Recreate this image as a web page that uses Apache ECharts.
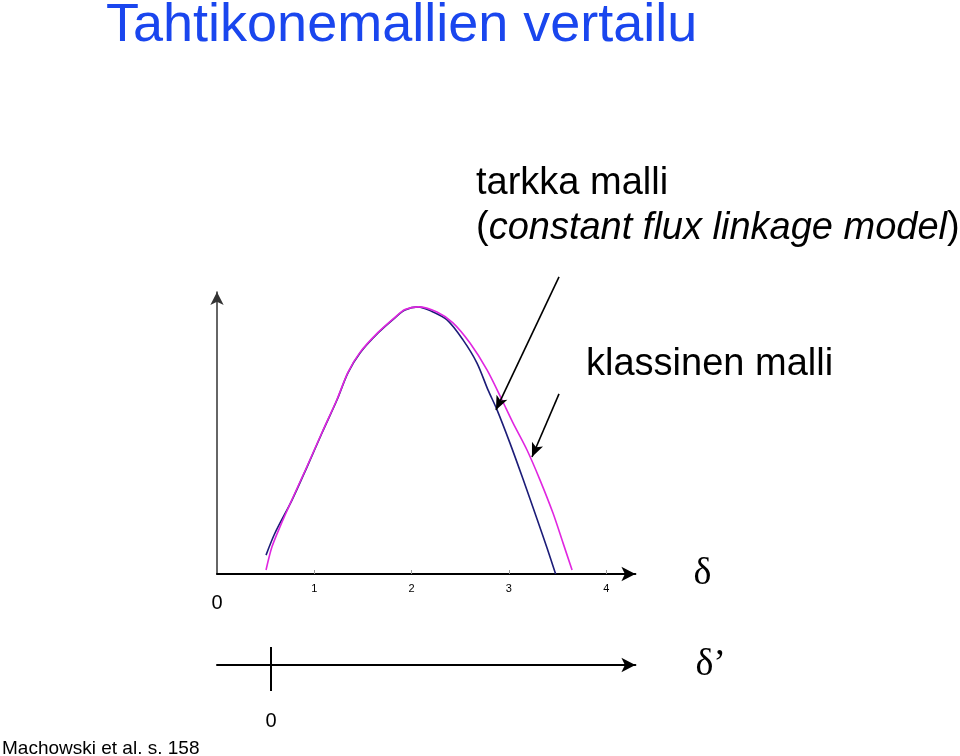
<!DOCTYPE html>
<html>
<head>
<meta charset="utf-8">
<script src="https://cdn.jsdelivr.net/npm/echarts@6/dist/echarts.min.js"></script>
<style>
  html, body { margin: 0; padding: 0; background: #ffffff; }
  #chart { width: 960px; height: 756px; }
</style>
</head>
<body>
<div id="chart"></div>
<script>
// ---- data ----
// tarkka malli (constant flux linkage model) — navy curve
const exactDelta = [0.504, 0.596, 0.771, 0.925, 1.079, 1.233, 1.346, 1.470, 1.655, 1.829, 1.932, 2.066, 2.189, 2.364, 2.528, 2.672, 2.785, 2.878, 3.011, 3.145, 3.289, 3.392, 3.480];
const exactP     = [0.071, 0.154, 0.278, 0.402, 0.530, 0.654, 0.756, 0.831, 0.906, 0.963, 0.992, 1.004, 0.990, 0.955, 0.880, 0.793, 0.692, 0.617, 0.492, 0.357, 0.207, 0.098, 0.000];
// klassinen malli — magenta curve
const classicDelta = [0.504, 0.565, 0.647, 0.771, 0.925, 1.079, 1.233, 1.346, 1.470, 1.655, 1.829, 1.932, 2.066, 2.261, 2.425, 2.600, 2.775, 2.929, 3.042, 3.186, 3.320, 3.453, 3.556, 3.649];
const classicP     = [0.015, 0.102, 0.177, 0.280, 0.404, 0.532, 0.656, 0.758, 0.833, 0.908, 0.965, 0.994, 1.004, 0.985, 0.944, 0.868, 0.767, 0.654, 0.568, 0.466, 0.353, 0.229, 0.117, 0.015];
// axis ticks
const deltaTicks = [0, 1, 2, 3, 4];
const deltaPrimeTicks = [0];
// annotation arrows (data coordinates): [start, tip]
const arrowExact   = [[3.515, 1.117], [2.867, 0.617]];
const arrowClassic = [[3.515, 0.677], [3.237, 0.440]];

const titleText = 'Tahtikonemallien vertailu';
const sourceText = 'Machowski et al. s. 158';

const pairs = (xs, ys) => xs.map((x, i) => [x, ys[i]]);

const chart = echarts.init(document.getElementById('chart'), null, { renderer: 'canvas' });
const sans = 'Liberation Sans, Arial, Helvetica, sans-serif';
const serif = 'Liberation Serif, Times New Roman, serif';

const arrowMarkLine = (arrows) => ({
  silent: true, symbol: ['none', 'arrow'], symbolSize: [9, 14],
  label: { show: false },
  lineStyle: { color: '#000', width: 1.6, type: 'solid' },
  data: arrows.map(a => [{ coord: a[0] }, { coord: a[1] }])
});

const option = {
  backgroundColor: '#ffffff',
  animation: false,
  title: {
    text: titleText,
    left: 106,
    top: -1,
    padding: 0,
    textStyle: { color: '#1a46ee', fontFamily: sans, fontSize: 54, fontWeight: 'normal' }
  },
  grid: [
    { left: 217, right: 324.6, top: 292, bottom: 182 },
    { left: 217, right: 324.6, top: 664, height: 1 },
    // overlay grid (same scale as grid 0, taller) for the annotation arrows
    { left: 217, right: 324.6, top: 254.8, bottom: 182 }
  ],
  xAxis: [
    {
      type: 'value', gridIndex: 0, min: 0, max: 4.3, interval: 1,
      name: 'δ', nameLocation: 'end', nameGap: 58,
      nameTextStyle: { fontFamily: serif, fontSize: 38, color: '#000', padding: [3, 0, 0, 0] },
      axisLine: { show: true, onZero: false, symbol: ['none', 'arrow'], symbolSize: [11, 14],
        lineStyle: { color: '#000', width: 2 } },
      axisTick: { show: true, inside: true, length: 4, customValues: [1, 2, 3, 4],
        lineStyle: { color: '#999', width: 1 } },
      axisLabel: {
        customValues: deltaTicks, margin: 9,
        formatter: v => v === 0 ? '{big|0}' : '{s|' + v + '}',
        rich: {
          s: { fontFamily: sans, fontSize: 11, color: '#000' },
          big: { fontFamily: sans, fontSize: 20, color: '#000', padding: [10, 0, 0, 0] }
        }
      },
      splitLine: { show: false }
    },
    {
      type: 'value', gridIndex: 1, position: 'bottom', min: -0.555, max: 3.745,
      name: 'δ’', nameLocation: 'end', nameGap: 60,
      nameTextStyle: { fontFamily: serif, fontSize: 38, color: '#000' },
      axisLine: { show: true, onZero: false, symbol: ['none', 'arrow'], symbolSize: [11, 14],
        lineStyle: { color: '#000', width: 2 } },
      axisTick: { show: true, length: 26, customValues: deltaPrimeTicks,
        lineStyle: { color: '#000', width: 2 } },
      axisLabel: { customValues: deltaPrimeTicks, margin: 46,
        fontFamily: sans, fontSize: 20, color: '#000' },
      splitLine: { show: false }
    },
    {
      type: 'value', gridIndex: 1, position: 'top', min: -0.555, max: 3.745,
      axisLine: { show: false },
      axisTick: { show: true, length: 18, customValues: deltaPrimeTicks,
        lineStyle: { color: '#000', width: 2 } },
      axisLabel: { show: false },
      splitLine: { show: false }
    },
    {
      type: 'value', gridIndex: 2, min: 0, max: 4.3, show: false
    }
  ],
  yAxis: [
    {
      type: 'value', gridIndex: 0, min: 0, max: 1.06,
      axisLine: { show: true, onZero: false, symbol: ['none', 'arrow'], symbolSize: [10, 13],
        lineStyle: { color: '#333', width: 1.5 } },
      axisTick: { show: false }, axisLabel: { show: false }, splitLine: { show: false }
    },
    { type: 'value', gridIndex: 1, min: 0, max: 1, show: false },
    { type: 'value', gridIndex: 2, min: 0, max: 1.2, show: false }
  ],
  series: [
    {
      name: 'tarkka malli', type: 'line', xAxisIndex: 0, yAxisIndex: 0,
      data: pairs(exactDelta, exactP), smooth: 0.3,
      showSymbol: false, clip: false,
      lineStyle: { color: '#1c1c78', width: 1.6 }
    },
    {
      name: 'klassinen malli', type: 'line', xAxisIndex: 0, yAxisIndex: 0,
      data: pairs(classicDelta, classicP), smooth: 0.3,
      showSymbol: false, clip: false,
      lineStyle: { color: '#e026e0', width: 1.6 }
    },
    {
      name: 'nuolet', type: 'line', xAxisIndex: 3, yAxisIndex: 2,
      data: [], showSymbol: false, silent: true,
      markLine: arrowMarkLine([arrowExact, arrowClassic])
    }
  ],
  graphic: [
    { type: 'text', left: 476, top: 165, style: { text: 'tarkka malli', fontFamily: sans, fontSize: 38, fill: '#000' } },
    { type: 'text', left: 476, top: 209, style: {
        text: '{n|(}{i|constant flux linkage model}{n|)}',
        rich: {
          n: { fontFamily: sans, fontSize: 38, fill: '#000' },
          i: { fontFamily: sans, fontSize: 38, fontStyle: 'italic', fill: '#000' }
        } } },
    { type: 'text', left: 586, top: 346, style: { text: 'klassinen malli', fontFamily: sans, fontSize: 38, fill: '#000' } },
    { type: 'text', left: 2, top: 739, style: { text: sourceText, fontFamily: sans, fontSize: 19, fill: '#000' } }
  ]
};
chart.setOption(option);
</script>
</body>
</html>
